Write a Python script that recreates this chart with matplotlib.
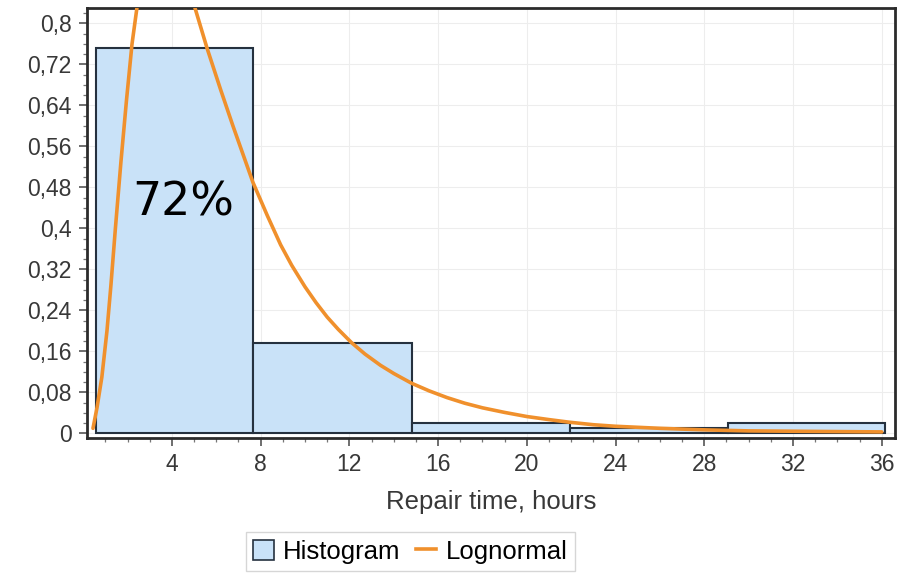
import matplotlib.pyplot as plt
import numpy as np
from matplotlib.ticker import MultipleLocator, FuncFormatter
from matplotlib.patches import Patch
from matplotlib.lines import Line2D

# Histogram (relative frequency per bin)
bin_edges = [0.58, 7.65, 14.82, 21.94, 29.06, 36.13]
bin_freq = [0.752, 0.177, 0.020, 0.011, 0.020]

# Fitted lognormal curve (peak is clipped by the axes)
curve_x = [0.44, 0.62, 0.84, 1.07, 1.25, 1.45, 1.70, 1.95, 2.20, 2.42, 2.8, 3.3,
           3.8, 4.3, 4.7, 5.04, 5.58, 6.2, 6.75, 7.2, 7.65, 8.3, 8.9, 9.4, 10.0,
           10.5, 11.0, 11.5, 12.1, 12.7, 13.4, 14.0, 14.8, 15.6, 16.4, 17.2,
           18.0, 19.0, 20.0, 21.0, 21.9, 23.0, 24.0, 26.0, 28.0, 30.0, 33.0, 36.0]
curve_y = [0.01, 0.05, 0.11, 0.20, 0.29, 0.40, 0.53, 0.65, 0.76, 0.83, 0.93,
           0.99, 1.0, 0.97, 0.91, 0.83, 0.752, 0.67, 0.60, 0.545, 0.49, 0.425,
           0.368, 0.328, 0.286, 0.255, 0.227, 0.203, 0.177, 0.155, 0.133,
           0.117, 0.098, 0.083, 0.070, 0.059, 0.050, 0.041, 0.033, 0.027,
           0.022, 0.017, 0.014, 0.010, 0.007, 0.005, 0.004, 0.003]

label_text = "72%"

plt.rcParams["font.family"] = ["Liberation Sans", "DejaVu Sans"]

fig = plt.figure(figsize=(9.1, 5.74), dpi=100)
ax = fig.add_axes([0.0956, 0.237, 0.888, 0.749])

widths = np.diff(bin_edges)
ax.bar(bin_edges[:-1], bin_freq, width=widths, align="edge",
       color="#c9e2f8", edgecolor="#25313f", linewidth=1.5, zorder=2)
ax.plot(curve_x, curve_y, color="#f0902c", linewidth=2.6, zorder=3,
        solid_joinstyle="round", solid_capstyle="round")

ax.text(4.5, 0.45, label_text, fontsize=33, family="DejaVu Sans",
        ha="center", va="center", color="black", zorder=4)

ax.set_xlim(0.17, 36.6)
ax.set_ylim(-0.0088, 0.83)
ax.xaxis.set_major_locator(MultipleLocator(4))
ax.xaxis.set_minor_locator(MultipleLocator(1))
ax.yaxis.set_major_locator(MultipleLocator(0.08))
ax.yaxis.set_minor_locator(MultipleLocator(0.02))
ax.yaxis.set_major_formatter(FuncFormatter(lambda v, p: ("%g" % round(v, 2)).replace(".", ",")))
ax.set_xticks([4, 8, 12, 16, 20, 24, 28, 32, 36])

ax.grid(True, which="major", color="#ededed", linewidth=0.8, zorder=0)
ax.set_axisbelow(True)
for s in ax.spines.values():
    s.set_linewidth(2.0)
    s.set_color("#2b2b2b")

ax.tick_params(axis="both", which="major", length=6, width=1.2, color="#555555",
               labelsize=16.5, labelcolor="#383838", pad=5)
ax.tick_params(axis="both", which="minor", length=3, width=0.9, color="#777777")

ax.set_xlabel("Repair time, hours", fontsize=18.5, color="#383838", labelpad=10)

handles = [Patch(facecolor="#c9e2f8", edgecolor="#25313f", linewidth=1.2),
           Line2D([0], [0], color="#f0902c", linewidth=2.6)]
fig.legend(handles, ["Histogram", "Lognormal"], loc="lower center",
           bbox_to_anchor=(0.451, -0.018), ncol=2, fontsize=18.5, frameon=True,
           fancybox=False, edgecolor="#cccccc", handlelength=0.8, handleheight=0.8,
           handletextpad=0.35, columnspacing=0.6, borderpad=0.3)

fig.savefig("out.png", dpi=100)
